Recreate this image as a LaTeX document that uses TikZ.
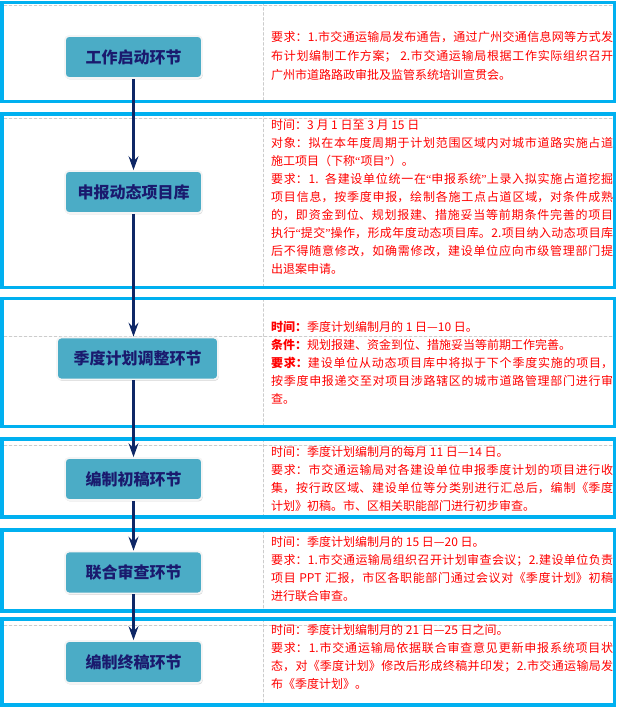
\documentclass[tikz,border=0pt]{standalone}
\usepackage{fontspec}
\setmainfont{Noto Sans CJK SC}
\newfontfamily\quotefont{Liberation Serif}
\XeTeXlinebreaklocale "zh"
\XeTeXlinebreakskip=0pt plus 1pt
\usepackage{tikz}
\usepackage{xcolor}
\usetikzlibrary{arrows.meta,shadows}
\setlength{\parindent}{0pt}
\newcommand{\qtd}[1]{{\quotefont “}#1{\quotefont ”}}
\definecolor{bandblue}{HTML}{00B0F0}
\definecolor{stageteal}{HTML}{4BACC6}
\definecolor{stageink}{HTML}{1A1A6E}
\definecolor{flowink}{HTML}{0E2766}
\definecolor{notered}{HTML}{FF0000}
\tikzset{
  every picture/.append style={line cap=round,line join=round},
  plan band/.style={bandblue,line width=3.4pt,line cap=butt,line join=miter},
  plan grid/.style={gray!40,line width=0.5pt,dash pattern=on 3pt off 2pt},
  plan stage/.style={rectangle,rounded corners=4pt,fill=stageteal,draw=gray!8,line width=1.8pt,
    drop shadow={shadow xshift=0.8pt,shadow yshift=-1.4pt,opacity=0.3},
    minimum width=137pt,minimum height=42pt,text=stageink,font=\fontsize{16}{19}\selectfont\bfseries},
  plan note/.style={anchor=north west,inner sep=0pt,text width=342pt,align=justify,text=notered,
    font=\fontsize{12}{18}\selectfont},
  plan flow/.style={flowink,line width=3.2pt,line cap=butt,-{Stealth[length=14pt,width=10pt,inset=5pt]}}
}

\begin{document}
\begin{tikzpicture}[x=1pt,y=-1pt]
\useasboundingbox (0,0) rectangle (617,708);
% table lines
\foreach \top/\bot in {2.5/101.5,114/287.5,298.5/426.5,439/517,530/611,619/705}
  \draw[plan grid] (263,\top) -- (263,\bot);
\foreach \y in {5,118,336,445,625}
  \draw[plan grid] (4,\y) -- (613,\y);
% bands
\foreach \top/\bot in {2.5/101.5,114/287.5,298.5/426.5,439/517,530/611,619/705}
  \draw[plan band] (2,\top) rectangle (614.5,\bot);

% stages
\node[plan stage] (start) at (133.5,57) {工作启动环节};
\node[plan stage] (declare) at (133.5,192) {申报动态项目库};
\node[plan stage,minimum width=161pt] (adjust) at (137.5,358.5) {季度计划调整环节};
\node[plan stage] (draft) at (133.5,479) {编制初稿环节};
\node[plan stage] (review) at (133.5,572.5) {联合审查环节};
\node[plan stage] (final) at (133.5,662) {编制终稿环节};

\draw[plan flow] (start.south) -- (start.south |- declare.north);
\draw[plan flow] (declare.south) -- (declare.south |- adjust.north);
\draw[plan flow] (draft.north |- adjust.south) -- (draft.north);
\draw[plan flow] (draft.south) -- (review.north);
\draw[plan flow] (review.south) -- (final.north);

% notes
\node[plan note,font=\fontsize{12}{19}\selectfont] (startnote) at (271,30.7) {要求：1.市交通运输局发布通告，通过广州交通信息网等方式发\linebreak
布计划编制工作方案； 2.市交通运输局根据工作实际组织召开\linebreak
广州市道路路政审批及监管系统培训宣贯会。};
\node[plan note] (declarenote) at (271,119.7) {时间：3 月 1 日至 3 月 15 日\par
对象：拟在本年度周期于计划范围区域内对城市道路实施占道\linebreak
施工项目（下称\qtd{项目}）。\par
要求：1. 各建设单位统一在\qtd{申报系统}上录入拟实施占道挖掘\linebreak
项目信息，按季度申报，绘制各施工点占道区域，对条件成熟\linebreak
的，即资金到位、规划报建、措施妥当等前期条件完善的项目\linebreak
执行\qtd{提交}操作，形成年度动态项目库。2.项目纳入动态项目库\linebreak
后不得随意修改，如确需修改，建设单位应向市级管理部门提\linebreak
出退案申请。};
\node[plan note] (adjustnote) at (271,321.2) {\textbf{时间：}季度计划编制月的 1 日—10 日。\par
\textbf{条件：}规划报建、资金到位、措施妥当等前期工作完善。\par
\textbf{要求：}建设单位从动态项目库中将拟于下个季度实施的项目，\linebreak
按季度申报递交至对项目涉路辖区的城市道路管理部门进行审\linebreak
查。};
\node[plan note] (draftnote) at (271,446.2) {时间：季度计划编制月的每月 11 日—14 日。\par
要求：市交通运输局对各建设单位申报季度计划的项目进行收\linebreak
集，按行政区域、建设单位等分类别进行汇总后，编制《季度\linebreak
计划》初稿。市、区相关职能部门进行初步审查。};
\node[plan note] (reviewnote) at (271,536.5) {时间：季度计划编制月的 15 日—20 日。\par
要求：1.市交通运输局组织召开计划审查会议；2.建设单位负责\linebreak
项目 PPT 汇报，市区各职能部门通过会议对《季度计划》初稿\linebreak
进行联合审查。};
\node[plan note] (finalnote) at (271,624) {时间：季度计划编制月的 21 日—25 日之间。\par
要求：1.市交通运输局依据联合审查意见更新申报系统项目状\linebreak
态，对《季度计划》修改后形成终稿并印发；2.市交通运输局发\linebreak
布《季度计划》。};
\end{tikzpicture}
\end{document}
